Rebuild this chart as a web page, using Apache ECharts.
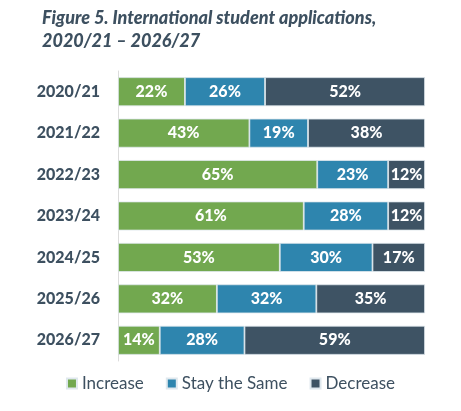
<!DOCTYPE html>
<html>
<head>
<meta charset="utf-8">
<script src="https://cdn.jsdelivr.net/npm/echarts@6/dist/echarts.min.js"></script>
<style>
  html, body { margin: 0; padding: 0; background: #fff; }
  #chart { width: 461px; height: 411px; }
</style>
</head>
<body>
<div id="chart"></div>
<script>
// 数据
const years = ['2020/21', '2021/22', '2022/23', '2023/24', '2024/25', '2025/26', '2026/27']
// values, labels shown rounded
const increase = [21.8, 42.8, 64.9, 60.5, 52.7, 32.2, 13.6]
const staySame = [26.1, 19.1, 23.1, 27.5, 30.2, 32.4, 27.6]
const decrease = [52.1, 38.1, 12.0, 12.0, 17.1, 35.4, 58.8]

const textColor = '#3d5060'
const font = 'Lato'

const chart = echarts.init(document.getElementById('chart'))

// 每个系列的通用配置
function makeSeries(name, data, color) {
    return {
        name: name,
        type: 'bar',
        stack: 'total',
        data: data,
        barWidth: 29,
        itemStyle: {
            color: color,
            borderColor: '#dfe8ee',
            borderWidth: 0.8
        },
        label: {
            show: true,
            position: 'inside',
            color: '#fff',
            fontFamily: font,
            fontWeight: 900,
            fontSize: 16,
            formatter: p => Math.round(p.value) + '%'
        }
    }
}

chart.setOption({
    animation: false,
    title: {
        text: 'Figure 5. International student applications,\n2020/21 \u2013 2026/27',
        left: 37,
        top: 2,
        textStyle: {
            color: textColor,
            fontFamily: font,
            fontStyle: 'italic',
            fontWeight: 900,
            fontSize: 18,
            lineHeight: 23
        }
    },
    legend: {
        bottom: 14,
        left: 'center',
        itemWidth: 10,
        itemHeight: 10,
        itemGap: 22,
        icon: 'rect',
        textStyle: {
            color: textColor,
            fontFamily: font,
            fontSize: 17
        }
    },
    grid: {
        left: 118,
        right: 36,
        top: 71,
        bottom: 50
    },
    xAxis: {
        type: 'value',
        min: 0,
        max: 100,
        show: false
    },
    yAxis: {
        type: 'category',
        inverse: true,
        data: years,
        axisLine: { lineStyle: { color: '#dcdcdc', width: 1 } },
        axisTick: { show: false },
        axisLabel: {
            margin: 18,
            color: textColor,
            fontFamily: font,
            fontWeight: 900,
            fontSize: 16
        }
    },
    series: [
        makeSeries('Increase', increase, '#72a84f'),
        makeSeries('Stay the Same', staySame, '#2e85ae'),
        makeSeries('Decrease', decrease, '#3e5364')
    ]
})
</script>
</body>
</html>
